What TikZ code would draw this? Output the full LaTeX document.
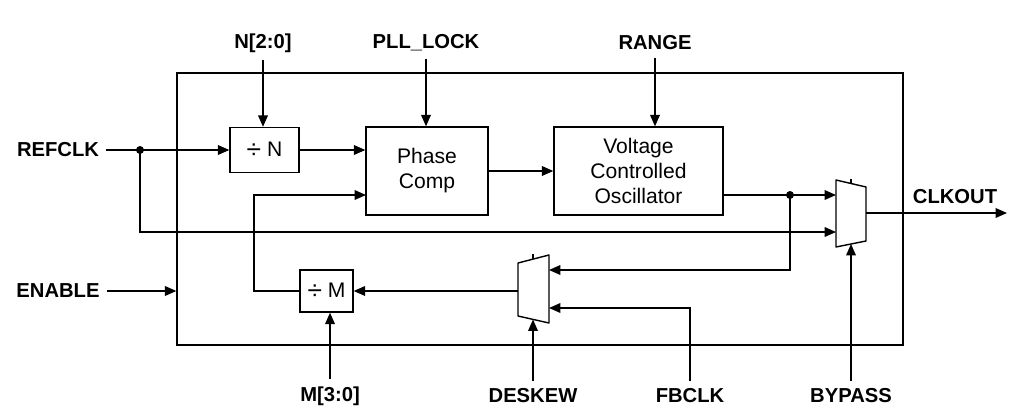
\documentclass[tikz,border=0pt]{standalone}
\usepackage{fontspec}
\setmainfont{Liberation Sans}
\usetikzlibrary{arrows.meta}
\newcommand{\divsign}{\raisebox{-1.3pt}{\fontsize{15}{15}\selectfont ÷}}

\begin{document}
\begin{tikzpicture}[x=0.02cm, y=-0.02cm,
  every node/.style={font=\fontsize{12}{14.2}\selectfont},
  blk/.style={draw, line width=0.8pt, align=center, inner sep=0pt},
  pin/.style={font=\fontsize{11.5}{14}\selectfont\bfseries, inner sep=4pt},
  sig/.style={-{Triangle[length=6.5pt,width=5.5pt]}, line width=0.8pt},
  wire/.style={line width=0.8pt},
  mux/.style={draw, line width=0.8pt, line join=round}]

\useasboundingbox (0,0) rectangle (1017,409);

% chip outline
\node[blk, minimum width=14.52cm, minimum height=5.44cm] (chip) at (540,209) {};

% blocks
\node[blk, minimum width=1.38cm, minimum height=0.9cm] (divN) at (264.5,150) {\divsign\ N};
\node[blk, minimum width=2.44cm, minimum height=1.76cm] (phase) at (427,171) {Phase\\Comp};
\node[blk, minimum width=3.38cm, minimum height=1.76cm] (vco) at (638.5,171) {Voltage\\Controlled\\Oscillator};
\node[blk, minimum width=1.06cm, minimum height=0.84cm] (divM) at (326.5,291) {\divsign\ M};

% muxes
\draw[mux] (836,180) -- (866,187) -- (866,241) -- (836,247) -- cycle;
\draw[wire] (851,183.5) -- (851,179);
\coordinate (omuxA) at (836,195);
\coordinate (omuxB) at (836,232);
\coordinate (omuxO) at (866,213);
\coordinate (omuxS) at (851,244);

\draw[mux] (549,255) -- (549,323) -- (518,316) -- (518,263) -- cycle;
\draw[wire] (533,259) -- (533,254);
\coordinate (dmuxA) at (549,270);
\coordinate (dmuxB) at (549,308);
\coordinate (dmuxO) at (518,291);
\coordinate (dmuxS) at (533,319.5);

% pins
\node[pin] (refclk) at (58,150) {REFCLK};
\node[pin] (enable) at (58,291) {ENABLE};
\node[pin] (nsel) at (263,43) {N[2:0]};
\node[pin] (pll) at (426,43) {PLL\_LOCK};
\node[pin] (range) at (655,43) {RANGE};
\node[pin] (msel) at (330,396) {M[3:0]};
\node[pin] (deskew) at (533,396) {DESKEW};
\node[pin] (fbclk) at (690,396) {FBCLK};
\node[pin] (bypass) at (851,396) {BYPASS};
\node[pin] (clkout) at (955,197) {CLKOUT};

\coordinate (refdot) at (140,150);
\coordinate (phaseB) at (366,195);
\coordinate (vcoout) at (723,195);
\coordinate (vcodot) at (790,195);
\coordinate (mturn) at (254,291);
\coordinate (clkend) at (1007,213);

% wires
\draw[sig] (refclk.east) -- (refclk.east -| divN.west);
\fill (refdot) circle[radius=0.08cm];
\draw[sig] (refdot) |- (omuxB);
\draw[sig] (nsel) -- (nsel |- divN.north);
\draw[sig] (pll) -- (pll |- phase.north);
\draw[sig] (range) -- (range |- vco.north);
\draw[sig] (divN) -- (divN -| phase.west);
\draw[sig] (phase) -- (vco);
\draw[sig] (vcoout) -- (omuxA);
\fill (vcodot) circle[radius=0.08cm];
\draw[sig] (vcodot) |- (dmuxA);
\draw[sig] (fbclk) |- (dmuxB);
\draw[sig] (deskew) -- (dmuxS);
\draw[sig] (dmuxO) -- (dmuxO -| divM.east);
\draw[sig] (divM.west) -- (mturn) |- (phaseB);
\draw[sig] (msel) -- (msel |- divM.south);
\draw[sig] (enable) -- (enable -| chip.west);
\draw[sig] (omuxO) -- (clkend);
\draw[sig] (bypass) -- (omuxS);
\end{tikzpicture}
\end{document}
